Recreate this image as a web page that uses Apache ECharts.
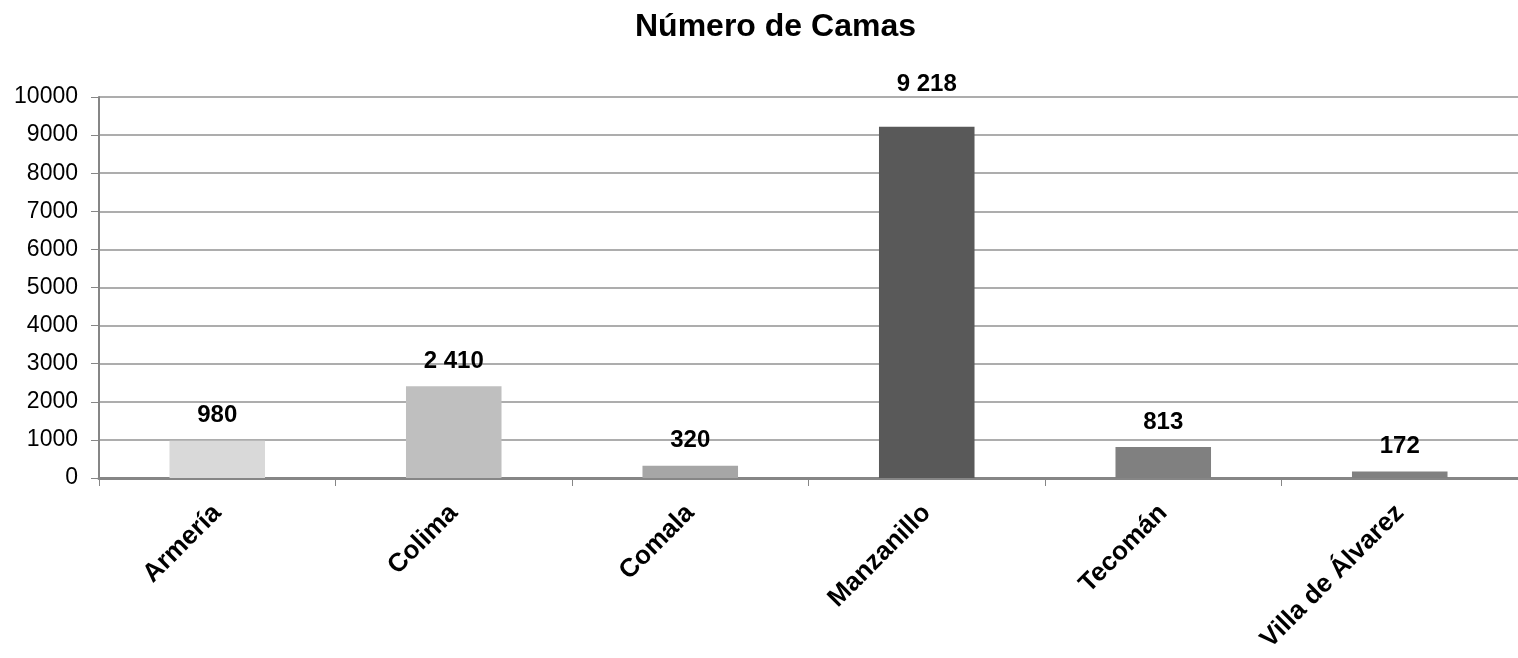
<!DOCTYPE html>
<html>
<head>
<meta charset="utf-8">
<script src="https://cdn.jsdelivr.net/npm/echarts@6/dist/echarts.min.js"></script>
<style>
  html, body { margin: 0; padding: 0; background: #fff; }
  #chart { width: 1518px; height: 658px; }
</style>
</head>
<body>
<div id="chart"></div>
<script>
// datos
const municipios = ['Armería', 'Colima', 'Comala', 'Manzanillo', 'Tecomán', 'Villa de Álvarez'];
const camas = [980, 2410, 320, 9218, 813, 172];
const colores = ['#d9d9d9', '#bfbfbf', '#a6a6a6', '#595959', '#808080', '#808080'];
const yTicks = [0, 1000, 2000, 3000, 4000, 5000, 6000, 7000, 8000, 9000, 10000];

const fuente = 'Liberation Sans, Arial, sans-serif';

function formatoMiles(v) {
  return String(v).replace(/\B(?=(\d{3})+(?!\d))/g, ' ');
}

let chart = echarts.init(document.getElementById('chart'));
chart.setOption({
  animation: false,
  title: {
    text: 'Número de Camas',
    left: 630,
    top: 6,
    textStyle: { fontFamily: fuente, fontSize: 32, fontWeight: 'bold', color: '#000' }
  },
  grid: { left: 99, right: -8, top: 97, bottom: 180 },
  xAxis: {
    type: 'category',
    data: municipios,
    boundaryGap: true,
    axisLine: { lineStyle: { color: '#868686', width: 3 } },
    axisTick: { show: true, length: 8, lineStyle: { color: '#868686', width: 1 } },
    axisLabel: {
      rotate: 45,
      interval: 0,
      margin: 31,
      fontFamily: fuente,
      fontSize: 26,
      fontWeight: 'bold',
      color: '#000'
    }
  },
  yAxis: {
    type: 'value',
    min: yTicks[0],
    max: yTicks[yTicks.length - 1],
    interval: 1000,
    axisLine: { show: true, lineStyle: { color: '#868686', width: 2 } },
    axisTick: { show: true, length: 8, lineStyle: { color: '#868686' } },
    splitLine: { lineStyle: { color: '#929292', width: 1.5 } },
    axisLabel: {
      margin: 21,
      fontFamily: fuente,
      fontSize: 23,
      color: '#000',
      formatter: v => String(v)
    }
  },
  series: [{
    type: 'bar',
    data: camas.map((v, i) => ({
      value: v,
      itemStyle: { color: colores[i] },
      label: v === 9218 ? { distance: 30 } : undefined
    })),
    barWidth: '40.4%',
    label: {
      show: true,
      position: 'top',
      distance: 13,
      formatter: p => formatoMiles(p.value),
      fontFamily: fuente,
      fontSize: 24,
      fontWeight: 'bold',
      color: '#000'
    }
  }]
});
</script>
</body>
</html>
